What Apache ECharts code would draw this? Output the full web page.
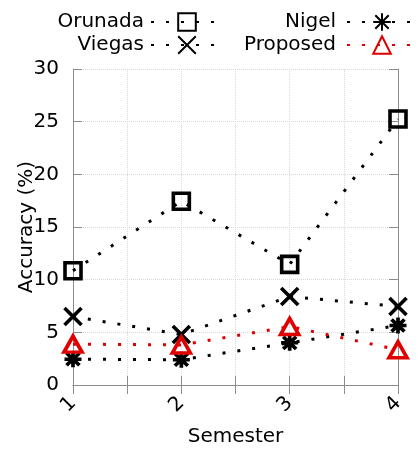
<!DOCTYPE html>
<html>
<head>
<meta charset="utf-8">
<script src="https://cdn.jsdelivr.net/npm/echarts@6/dist/echarts.min.js"></script>
<style>
  html, body { margin: 0; padding: 0; background: #fff; }
  #chart { width: 418px; height: 452px; }
</style>
</head>
<body>
<div id="chart"></div>
<script>
// Accuracy per semester for each method
const semesters = [1, 2, 3, 4];
const semesterLabels = ['1', '2', '3', '4'];
const orunada = [10.85, 17.45, 11.45, 25.25];
const viegas = [6.5, 4.8, 8.4, 7.45];
const nigel = [2.45, 2.4, 4.0, 5.65];
const proposed = [3.88, 3.8, 5.55, 3.35];
const yTicks = [0, 5, 10, 15, 20, 25, 30];

const FONT = 'DejaVu Sans';
const FRAME = '#8c8c8c';
const GRID = '#d8d8d8';

// Hollow marker outlines drawn as paths so the dotted line shows through
const SYM_SQUARE = 'path://M0,0L10,0L10,10L0,10Z';
const SYM_CROSS = 'path://M0,0L10,10M10,0L0,10';
const SYM_STAR = 'path://M5,0L5,10M0,5L10,5M1.2,1.2L8.8,8.8M8.8,1.2L1.2,8.8';
const SYM_TRIANGLE = 'path://M5,0L10,9L0,9Z';

function series(name, values, symbol, size, color) {
  return {
    name: name,
    type: 'line',
    data: semesters.map((s, i) => [s, values[i]]),
    symbol: symbol,
    symbolSize: size,
    lineStyle: { color: color, width: 3, type: [3, 12], cap: 'butt' },
    itemStyle: { color: 'rgba(0,0,0,0)', borderColor: color, borderWidth: 3.6 },
    emphasis: { disabled: true },
    animation: false
  };
}

const yMin = yTicks[0];
const yMax = yTicks[yTicks.length - 1];
const yStep = yTicks[1] - yTicks[0];

function mirrorAxis(extra) {
  return Object.assign({
    axisLine: { show: true, lineStyle: { color: FRAME, width: 1 } },
    axisTick: { show: true, inside: true, length: 9, lineStyle: { color: FRAME } },
    axisLabel: { show: false },
    splitLine: { show: false }
  }, extra);
}

const legendText = { fontSize: 20, color: '#000', fontFamily: FONT };

const option = {
  backgroundColor: '#fff',
  animation: false,
  grid: { left: 73, right: 20, top: 69, bottom: 62, containLabel: false },
  legend: [
    {
      data: ['Orunada', 'Viegas'],
      orient: 'vertical', align: 'right', selectedMode: false,
      right: 194, top: 12, padding: 0,
      itemWidth: 72, itemHeight: 22, itemGap: 3,
      textStyle: Object.assign({ padding: [0, 2, 0, 0] }, legendText)
    },
    {
      data: ['Nigel', 'Proposed'],
      orient: 'vertical', align: 'right', selectedMode: false,
      right: 0, top: 12, padding: 0,
      itemWidth: 70, itemHeight: 22, itemGap: 3,
      textStyle: Object.assign({ padding: [0, 6, 0, 0] }, legendText)
    }
  ],
  xAxis: [
    {
      type: 'value', min: semesters[0], max: semesters[semesters.length - 1], interval: 0.5,
      position: 'bottom',
      name: 'Semester', nameLocation: 'middle', nameGap: 42, nameMoveOverlap: false,
      nameTextStyle: { fontSize: 20, color: '#000', fontFamily: FONT },
      axisLine: { show: true, lineStyle: { color: FRAME, width: 1 } },
      axisTick: { show: true, inside: true, length: 9, lineStyle: { color: FRAME } },
      axisLabel: {
        rotate: 45, margin: 15, fontSize: 20, color: '#000', fontFamily: FONT,
        formatter: v => {
          const i = semesters.indexOf(v);
          return i >= 0 ? semesterLabels[i] : '';
        }
      },
      splitLine: { show: true, lineStyle: { color: GRID, type: 'dotted', width: 1 } }
    },
    mirrorAxis({
      type: 'value', min: semesters[0], max: semesters[semesters.length - 1], interval: 0.5,
      position: 'top'
    })
  ],
  yAxis: [
    {
      type: 'value', min: yMin, max: yMax, interval: yStep,
      position: 'left',
      name: 'Accuracy (%)', nameLocation: 'middle', nameGap: 36, nameMoveOverlap: false,
      nameTextStyle: { fontSize: 20, color: '#000', fontFamily: FONT },
      axisLine: { show: true, lineStyle: { color: FRAME, width: 1 } },
      axisTick: { show: true, inside: true, length: 9, lineStyle: { color: FRAME } },
      axisLabel: { margin: 14, fontSize: 20, color: '#000', fontFamily: FONT },
      splitLine: { show: true, lineStyle: { color: GRID, type: 'dotted', width: 1 } }
    },
    mirrorAxis({
      type: 'value', min: yMin, max: yMax, interval: yStep,
      position: 'right'
    })
  ],
  series: [
    series('Orunada', orunada, SYM_SQUARE, 16, '#000'),
    series('Viegas', viegas, SYM_CROSS, 17, '#000'),
    series('Nigel', nigel, SYM_STAR, [17, 16], '#000'),
    series('Proposed', proposed, SYM_TRIANGLE, [18, 16], '#e00000')
  ]
};

const chart = echarts.init(document.getElementById('chart'), null, { renderer: 'canvas' });
chart.setOption(option);
</script>
</body>
</html>
